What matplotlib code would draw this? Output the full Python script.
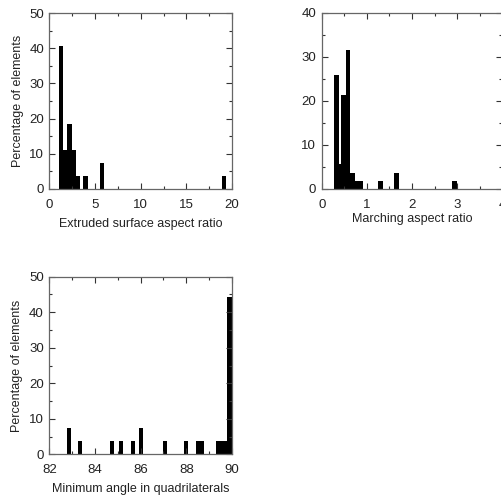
import matplotlib
matplotlib.use("Agg")
import matplotlib.pyplot as plt
from matplotlib.ticker import MultipleLocator

# ---- data ----
ext_centers = [1.24, 1.72, 2.20, 2.67, 3.13, 3.96, 5.78, 19.10]
ext_heights = [40.7, 11.1, 18.5, 11.1, 3.7, 3.7, 7.4, 3.7]
ext_width = 0.47

march_centers = [0.32, 0.41, 0.485, 0.58, 0.685, 0.78, 0.87, 1.30, 1.66, 2.93]
march_heights = [25.9, 5.6, 21.3, 31.5, 3.7, 1.85, 1.85, 1.85, 3.7, 1.85]
march_width = 0.105

ang_centers = [82.85, 83.34, 84.75, 85.15, 85.66, 86.02, 87.07, 87.99,
               88.50, 88.69, 89.38, 89.54, 89.70, 89.89]
ang_heights = [7.4, 3.7, 3.7, 3.7, 3.7, 7.4, 3.7, 3.7,
               3.7, 3.7, 3.7, 3.7, 3.7, 44.4]
ang_width = 0.19

plt.rcParams['font.family'] = ['Liberation Sans', 'DejaVu Sans']
plt.rcParams['font.size'] = 9

fig = plt.figure(figsize=(5.02, 4.97), dpi=100)
W, H = 502, 497

def add_ax(l, r, t, b):
    return fig.add_axes([l / W, 1 - b / H, (r - l) / W, (b - t) / H])

def style(ax, xmaj, xmin, ymaj, ymin):
    ax.xaxis.set_major_locator(MultipleLocator(xmaj))
    ax.xaxis.set_minor_locator(MultipleLocator(xmin))
    ax.yaxis.set_major_locator(MultipleLocator(ymaj))
    ax.yaxis.set_minor_locator(MultipleLocator(ymin))
    ax.tick_params(which='both', direction='in', top=True, right=True,
                   color='#333333', labelcolor='#222222', width=0.8)
    ax.tick_params(which='major', length=4.5, labelsize=9.5)
    ax.tick_params(axis='x', which='major', pad=7)
    ax.tick_params(axis='y', which='major', pad=4)
    ax.tick_params(which='minor', length=2.5)
    for s in ax.spines.values():
        s.set_color('#666666')
        s.set_linewidth(0.9)

lab = dict(fontsize=9, color='#222222')

ax1 = add_ax(49.5, 232, 13, 189)
ax1.bar(ext_centers, ext_heights, width=ext_width, color='black', linewidth=0)
ax1.set_xlim(0, 20)
ax1.set_ylim(0, 50)
style(ax1, 5, 2.5, 10, 5)
ax1.set_xlabel('Extruded surface aspect ratio', labelpad=5, **lab)
ax1.set_ylabel('Percentage of elements', labelpad=4, **lab)

ax2 = add_ax(321.7, 502.5, 12.7, 189)
ax2.bar(march_centers, march_heights, width=march_width, color='black', linewidth=0)
ax2.set_xlim(0, 4)
ax2.set_ylim(0, 40)
style(ax2, 1, 0.5, 10, 5)
ax2.set_xlabel('Marching aspect ratio', labelpad=1.5, **lab)

ax3 = add_ax(49.3, 232, 276.7, 454.3)
ax3.bar(ang_centers, ang_heights, width=ang_width, color='black', linewidth=0)
ax3.set_xlim(82, 90)
ax3.set_ylim(0, 50)
style(ax3, 2, 1, 10, 5)
ax3.set_xlabel('Minimum angle in quadrilaterals', labelpad=5, **lab)
ax3.set_ylabel('Percentage of elements', labelpad=4, **lab)

fig.savefig('out.png', dpi=100)
